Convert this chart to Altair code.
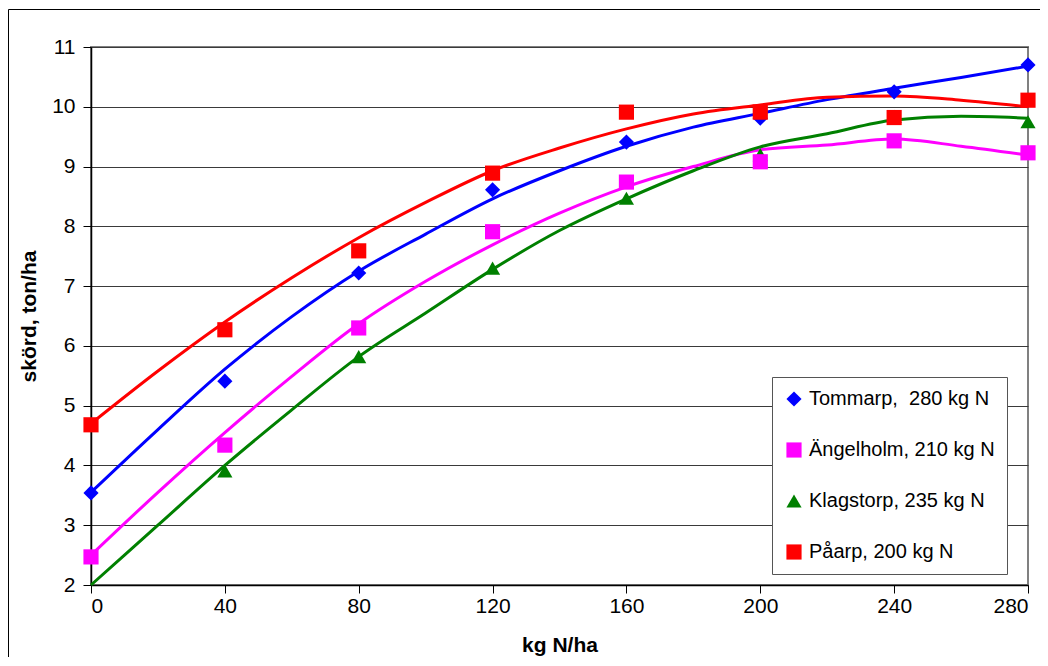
import altair as alt
import pandas as pd

# ---- data ----
series = ["Tommarp,\u00a0 280 kg N", "Ängelholm, 210 kg N", "Klagstorp, 235 kg N", "Påarp, 200 kg N"]
colors = ["#0000FF", "#FF00FF", "#008000", "#FF0000"]
shapes = ["diamond", "square", "triangle-up", "square"]

dose_obs = [0, 40, 80, 120, 160, 200, 240, 280]
tommarp_obs = [3.54, 5.41, 7.22, 8.61, 9.41, 9.81, 10.25, 10.70]
angelholm_obs = [2.47, 4.34, 6.30, 7.91, 8.74, 9.08, 9.43, 9.23]
klagstorp_obs = [None, 3.91, 5.82, 7.30, 8.47, 9.20, 9.84, 9.75]
paarp_obs = [4.68, 6.27, 7.59, 8.89, 9.91, 9.91, 9.82, 10.11]

dose_fit = [0, 20, 40, 60, 80, 100, 120, 140, 160, 180, 200, 220, 240, 260, 280]
tommarp_fit = [3.55, 4.60, 5.61, 6.49, 7.25, 7.87, 8.46, 8.93, 9.34, 9.66, 9.89, 10.12, 10.31, 10.49, 10.68]
angelholm_fit = [2.50, 3.55, 4.55, 5.49, 6.37, 7.08, 7.69, 8.22, 8.66, 9.00, 9.28, 9.36, 9.46, 9.34, 9.19]
klagstorp_fit = [2.00, 3.00, 4.00, 4.93, 5.82, 6.55, 7.28, 7.93, 8.46, 8.93, 9.33, 9.55, 9.78, 9.84, 9.81]
paarp_fit = [4.70, 5.58, 6.40, 7.14, 7.81, 8.40, 8.93, 9.31, 9.63, 9.88, 10.03, 10.16, 10.18, 10.11, 10.00]

y_ticks = [2, 3, 4, 5, 6, 7, 8, 9, 10, 11]
x_ticks = [0, 40, 80, 120, 160, 200, 240, 280]

# ---- tables ----
obs_rows = []
fit_rows = []
for name, obs, fit in zip(series,
                          [tommarp_obs, angelholm_obs, klagstorp_obs, paarp_obs],
                          [tommarp_fit, angelholm_fit, klagstorp_fit, paarp_fit]):
    for d, v in zip(dose_obs, obs):
        if v is not None:
            obs_rows.append({"dose": d, "yield": v, "plats": name})
    for d, v in zip(dose_fit, fit):
        fit_rows.append({"dose": d, "yield": v, "plats": name})
obs_df = pd.DataFrame(obs_rows)
fit_df = pd.DataFrame(fit_rows)

# z-order of markers like the reference
z = {series[2]: 0, series[0]: 1, series[1]: 2, series[3]: 3}
obs_df["z"] = obs_df["plats"].map(z)

FONT = "Liberation Sans"

x_enc = alt.X("dose:Q", scale=alt.Scale(domain=[0, 280], nice=False),
              axis=alt.Axis(values=x_ticks, title="kg N/ha", grid=False, format="d",
                            tickSize=8, labelPadding=2, titlePadding=18))
y_enc = alt.Y("yield:Q", scale=alt.Scale(domain=[2, 11], nice=False),
              axis=alt.Axis(values=y_ticks, title="skörd, ton/ha", grid=True, format="d",
                            tickSize=8, labelPadding=8, titlePadding=12))

# one line layer per series, constant colour (no extra scale / legend)
line_layers = []
for name, col in zip(series, colors):
    line_layers.append(
        alt.Chart(fit_df).transform_filter(alt.datum.plats == name)
        .mark_line(strokeWidth=3, interpolate="monotone", color=col)
        .encode(x=x_enc, y=y_enc)
    )

leg = dict(title=None, orient="none", legendX=681, legendY=330,
           fillColor="white", strokeColor="#555555",
           padding=12, rowPadding=31, labelFontSize=20, labelLimit=400,
           labelFont=FONT, labelColor="black", labelOffset=5, symbolSize=230)

points = alt.Chart(obs_df).mark_point(filled=True, opacity=1, size=230).encode(
    x=alt.X("dose:Q"), y=alt.Y("yield:Q"),
    color=alt.Color("plats:N", scale=alt.Scale(domain=series, range=colors),
                    legend=alt.Legend(**leg)),
    shape=alt.Shape("plats:N", scale=alt.Scale(domain=series, range=shapes),
                    legend=alt.Legend(**leg)),
    order=alt.Order("z:Q"),
)

one = pd.DataFrame({"k": [0]})
frame_left = alt.Chart(one).mark_rule(color="black", strokeWidth=1).encode(
    x=alt.value(-82.5), y=alt.value(-37.5), y2=alt.value(640))
frame_top = alt.Chart(one).mark_rule(color="black", strokeWidth=1).encode(
    x=alt.value(-82.5), x2=alt.value(960), y=alt.value(-37.5))

chart = alt.layer(*line_layers, points, frame_left, frame_top).properties(
    width=937, height=538,
    padding={"left": 83, "top": 39, "right": 12, "bottom": 72},
    autosize=alt.AutoSizeParams(type="none"),
    background="white",
).configure_view(
    stroke="#808080", strokeWidth=2,
).configure_axis(
    labelFont=FONT, titleFont=FONT, labelFontSize=21, titleFontSize=21,
    titleFontWeight="bold", labelColor="black", titleColor="black",
    domainColor="black", domainWidth=1.5, tickColor="black", tickWidth=1,
    gridColor="#3a3a3a", gridWidth=1, gridOpacity=1,
)

chart.save("out.html", embed_options={"renderer": "svg", "actions": False})
